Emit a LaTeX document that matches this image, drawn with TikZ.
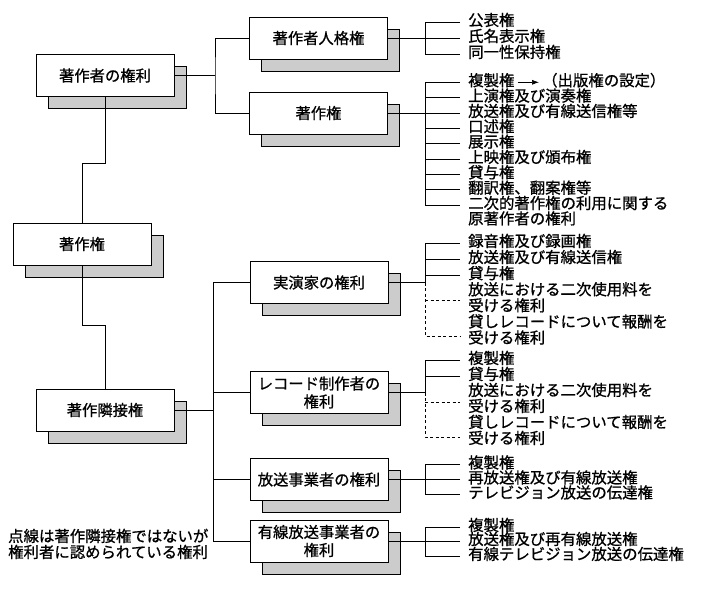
\documentclass[tikz,border=0pt]{standalone}
\usepackage{fontspec}
\newfontfamily\jp{Noto Sans CJK JP}[FakeBold=0.9]
\usetikzlibrary{shadows,arrows.meta}
\definecolor{shgray}{HTML}{CCCCCC}
\tikzset{
  box/.style={draw, fill=white, line width=0.7pt, minimum width=138pt,
    minimum height=42pt, inner sep=0pt, align=center,
    font=\jp\fontsize{15.3}{18}\selectfont,
    general shadow={shadow xshift=12pt, shadow yshift=-12pt, fill=shgray,
      draw=black, line width=0.7pt}},
  item/.style={anchor=west, inner sep=0pt, font=\jp\fontsize{15.4}{16}\selectfont,
    text height=0.88em, text depth=0.12em},
  conn/.style={line width=0.7pt},
  dconn/.style={line width=0.7pt, dash pattern=on 3pt off 2.5pt},
}
\begin{document}
\begin{tikzpicture}[x=1pt,y=-1pt]
\useasboundingbox[fill=white] (0,0) rectangle (705,589);

\coordinate (jA) at (215,75.5);
\coordinate (k1) at (82,163);
\coordinate (k2) at (105,325);
\coordinate (busT) at (213,282.5);
\coordinate (busB) at (213,541);

% ---------- boxes ----------
\node[box] (b1) at (105,75.5) {著作者の権利};
\node[box] (b2) at (318.5,38) {著作者人格権};
\node[box] (b3) at (318.5,113) {著作権};
\node[box] (b4) at (82,244) {著作権};
\node[box] (b5) at (105,410) {著作隣接権};
\node[box] (b6) at (319,282.5) {実演家の権利};
\node[box] (b7) at (319,392.5) {レコード制作者の\\権利};
\node[box] (b8) at (319,479.5) {放送事業者の権利};
\node[box] (b9) at (319,541) {有線放送事業者の\\権利};

% left tree
\draw[conn] (b1.east) -- (jA);
\draw[conn] (b2.west) -| (jA) |- (b3.west);
\draw[conn] (b1.south) |- (k1) -- (b4.north);
\draw[conn] (b4.south) |- (k2) -- (b5.north);
\draw[conn] (b6.west) -- (busT) -- (busB) -- (b9.west);
\draw[conn] (b7.west) -- (b7.west -| busT);
\draw[conn] (b8.west) -- (b8.west -| busT);
\draw[conn] (b5.east) -- (b5.east -| busT);

% ---------- list A: 著作者人格権 ----------
\node[item] (a0) at (468,22) {公表権};
\node[item] (a1) at (468,38) {氏名表示権};
\node[item] (a2) at (468,54) {同一性保持権};
\coordinate (aT) at (425,22);
\coordinate (aB) at (425,54);
\draw[conn] (b2.east) -- (b2.east -| aT);
\draw[conn] ([xshift=-8pt]a0.west) -- (aT) -- (aB) -- ([xshift=-8pt]a2.west);
\draw[conn] ([xshift=-8pt]a1.west) -- (a1.west -| aT);

% ---------- list B: 著作権 ----------
\node[item] (c0) at (468,82.3) {複製権};
\node[item] (pub) at (542,82.3) {（出版権の設定）};
\node[item] (c1) at (468,97.65) {上演権及び演奏権};
\node[item] (c2) at (468,113) {放送権及び有線送信権等};
\node[item] (c3) at (468,128.35) {口述権};
\node[item] (c4) at (468,143.7) {展示権};
\node[item] (c5) at (468,159.05) {上映権及び頒布権};
\node[item] (c6) at (468,174.4) {貸与権};
\node[item] (c7) at (468,189.75) {翻訳権、翻案権等};
\node[item] (c8) at (468,205.1) {二次的著作権の利用に関する};
\node[item] (c9) at (468,220.45) {原著作者の権利};
\coordinate (cT) at (425,82.3);
\coordinate (cB) at (425,205.1);
\draw[conn] (b3.east) -- (b3.east -| cT);
\draw[conn] ([xshift=-8pt]c0.west) -- (cT) -- (cB) -- ([xshift=-8pt]c8.west);
\foreach \n in {c1,c2,c3,c4,c5,c6,c7}
  \draw[conn] ([xshift=-8pt]\n.west) -- (\n.west -| cT);
\draw[conn,-{Latex[length=7pt,width=5pt]}] ([xshift=3pt]c0.east) -- ([xshift=-3pt]pub.west);

% ---------- list C: 実演家の権利 ----------
\node[item] (d0) at (468,243) {録音権及び録画権};
\node[item] (d1) at (468,259.1) {放送権及び有線送信権};
\node[item] (d2) at (468,275.2) {貸与権};
\node[item] (d3) at (468,291.3) {放送における二次使用料を};
\node[item] (d4) at (468,307.4) {受ける権利};
\node[item] (d5) at (468,323.5) {貸しレコードについて報酬を};
\node[item] (d6) at (468,339.6) {受ける権利};
\coordinate (dT) at (425,243);
\coordinate (dM) at (425,282.5);
\coordinate (dB) at (425,336);
\coordinate (dX) at (425,300);
\draw[conn] (b6.east) -- (dM);
\draw[conn] ([xshift=-8pt]d0.west) -- (dT) -- (dM);
\draw[conn] ([xshift=-8pt]d1.west) -- (d1.west -| dT);
\draw[conn] ([xshift=-8pt]d2.west) -- (d2.west -| dT);
\draw[dconn] (dM) -- (dB) -- ([xshift=-8pt]dB -| d6.west);
\draw[dconn] (dX) -- ([xshift=-8pt]dX -| d4.west);

% ---------- list D: レコード制作者の権利 ----------
\node[item] (e0) at (468,360) {複製権};
\node[item] (e1) at (468,376) {貸与権};
\node[item] (e2) at (468,392) {放送における二次使用料を};
\node[item] (e3) at (468,408) {受ける権利};
\node[item] (e4) at (468,424) {貸しレコードについて報酬を};
\node[item] (e5) at (468,440) {受ける権利};
\coordinate (eT) at (425,360);
\coordinate (eM) at (425,392.5);
\coordinate (eB) at (425,437);
\coordinate (eX) at (425,402);
\draw[conn] (b7.east) -- (eM);
\draw[conn] ([xshift=-8pt]e0.west) -- (eT) -- (eM);
\draw[conn] ([xshift=-8pt]e1.west) -- (e1.west -| eT);
\draw[dconn] (eM) -- (eB) -- ([xshift=-8pt]eB -| e5.west);
\draw[dconn] (eX) -- ([xshift=-8pt]eX -| e3.west);

% ---------- list E: 放送事業者の権利 ----------
\node[item] (f0) at (468,464.5) {複製権};
\node[item] (f1) at (468,479.5) {再放送権及び有線放送権};
\node[item] (f2) at (468,494.5) {テレビジョン放送の伝達権};
\coordinate (fT) at (425,464.5);
\coordinate (fB) at (425,494.5);
\draw[conn] (b8.east) -- (b8.east -| fT);
\draw[conn] ([xshift=-8pt]f0.west) -- (fT) -- (fB) -- ([xshift=-8pt]f2.west);
\draw[conn] ([xshift=-8pt]f1.west) -- (f1.west -| fT);

% ---------- list F: 有線放送事業者の権利 ----------
\node[item] (g0) at (468,527) {複製権};
\node[item] (g1) at (468,541) {放送権及び再有線放送権};
\node[item] (g2) at (468,556) {有線テレビジョン放送の伝達権};
\coordinate (gT) at (425,527);
\coordinate (gB) at (425,556);
\draw[conn] (b9.east) -- (b9.east -| gT);
\draw[conn] ([xshift=-8pt]g0.west) -- (gT) -- (gB) -- ([xshift=-8pt]g2.west);
\draw[conn] ([xshift=-8pt]g1.west) -- (g1.west -| gT);

% ---------- note ----------
\node[item] (n1) at (8,538) {点線は著作隣接権ではないが};
\node[item] (n2) at (8,554) {権利者に認められている権利};
\end{tikzpicture}
\end{document}
